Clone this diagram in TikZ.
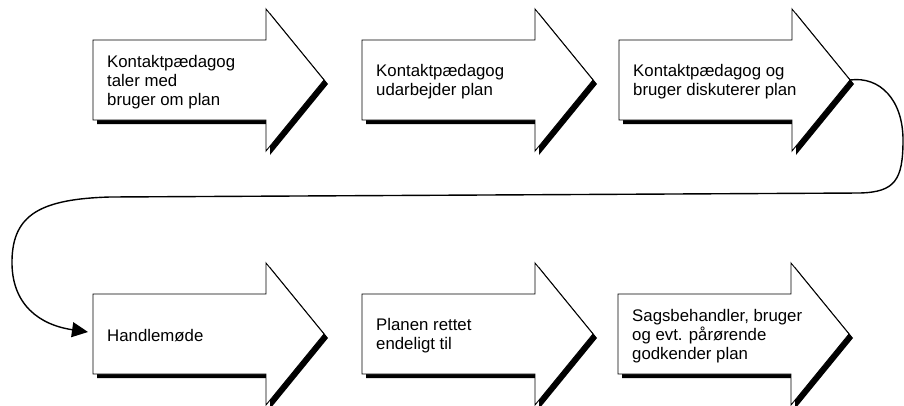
\documentclass[tikz,border=0pt]{standalone}
\usepackage{fontspec}
\setmainfont{Liberation Sans}
\usetikzlibrary{arrows.meta}
\tikzset{
  arrowbody/.style={draw=black, fill=white, line width=0.9pt, line join=miter},
  arrowshadow/.style={fill=black, shift={(4,4)}},
  steptext/.style={align=left, inner sep=0pt, anchor=west, font=\fontsize{16.8}{19}\selectfont},
  loopline/.style={line width=1.4pt, -{Triangle[length=16pt,width=15pt]}}
}
% #1 = L, #2 = C
\newcommand{\arrowoutline}[2]{({#1},{#2-40}) -- ({#1+173},{#2-40}) -- ({#1+173},{#2-71}) -- ({#1+231},{#2}) -- ({#1+173},{#2+71}) -- ({#1+173},{#2+40}) -- ({#1},{#2+40}) -- cycle}
% #1 name, #2 L, #3 C, #4 text
\newcommand{\flowarrow}[4]{%
  \fill[arrowshadow] \arrowoutline{#2}{#3};
  \filldraw[arrowbody] \arrowoutline{#2}{#3};
  \node[steptext] (#1) at ({#2+14},{#3+2}) {#4};
  \coordinate (#1-tip) at ({#2+231},{#3});
  \coordinate (#1-in) at ({#2-5},{#3-2});
}
\begin{document}
\begin{tikzpicture}[x=1pt,y=-1pt]
  \useasboundingbox (0,0) rectangle (904,405);
  \flowarrow{a1}{93}{80}{Kontaktpædagog\\taler med\\bruger om plan}
  \flowarrow{a2}{362}{80}{Kontaktpædagog\\udarbejder plan}
  \flowarrow{a3}{619}{80}{Kontaktpædagog og\\bruger diskuterer plan}
  \flowarrow{a4}{93}{334}{Handlemøde}
  \flowarrow{a5}{362}{334}{Planen rettet\\endeligt til}
  \flowarrow{a6}{618}{334}{Sagsbehandler, bruger\\og evt. pårørende\\godkender plan}
  \draw[loopline] (a3-tip) .. controls (880,76) and (903,100) .. (903,140)
    .. controls (903,180) and (895,192) .. (860,193) -- (110,197)
    .. controls (40,199) and (13,215) .. (12,260)
    .. controls (11,305) and (40,325) .. (a4-in);
\end{tikzpicture}
\end{document}
